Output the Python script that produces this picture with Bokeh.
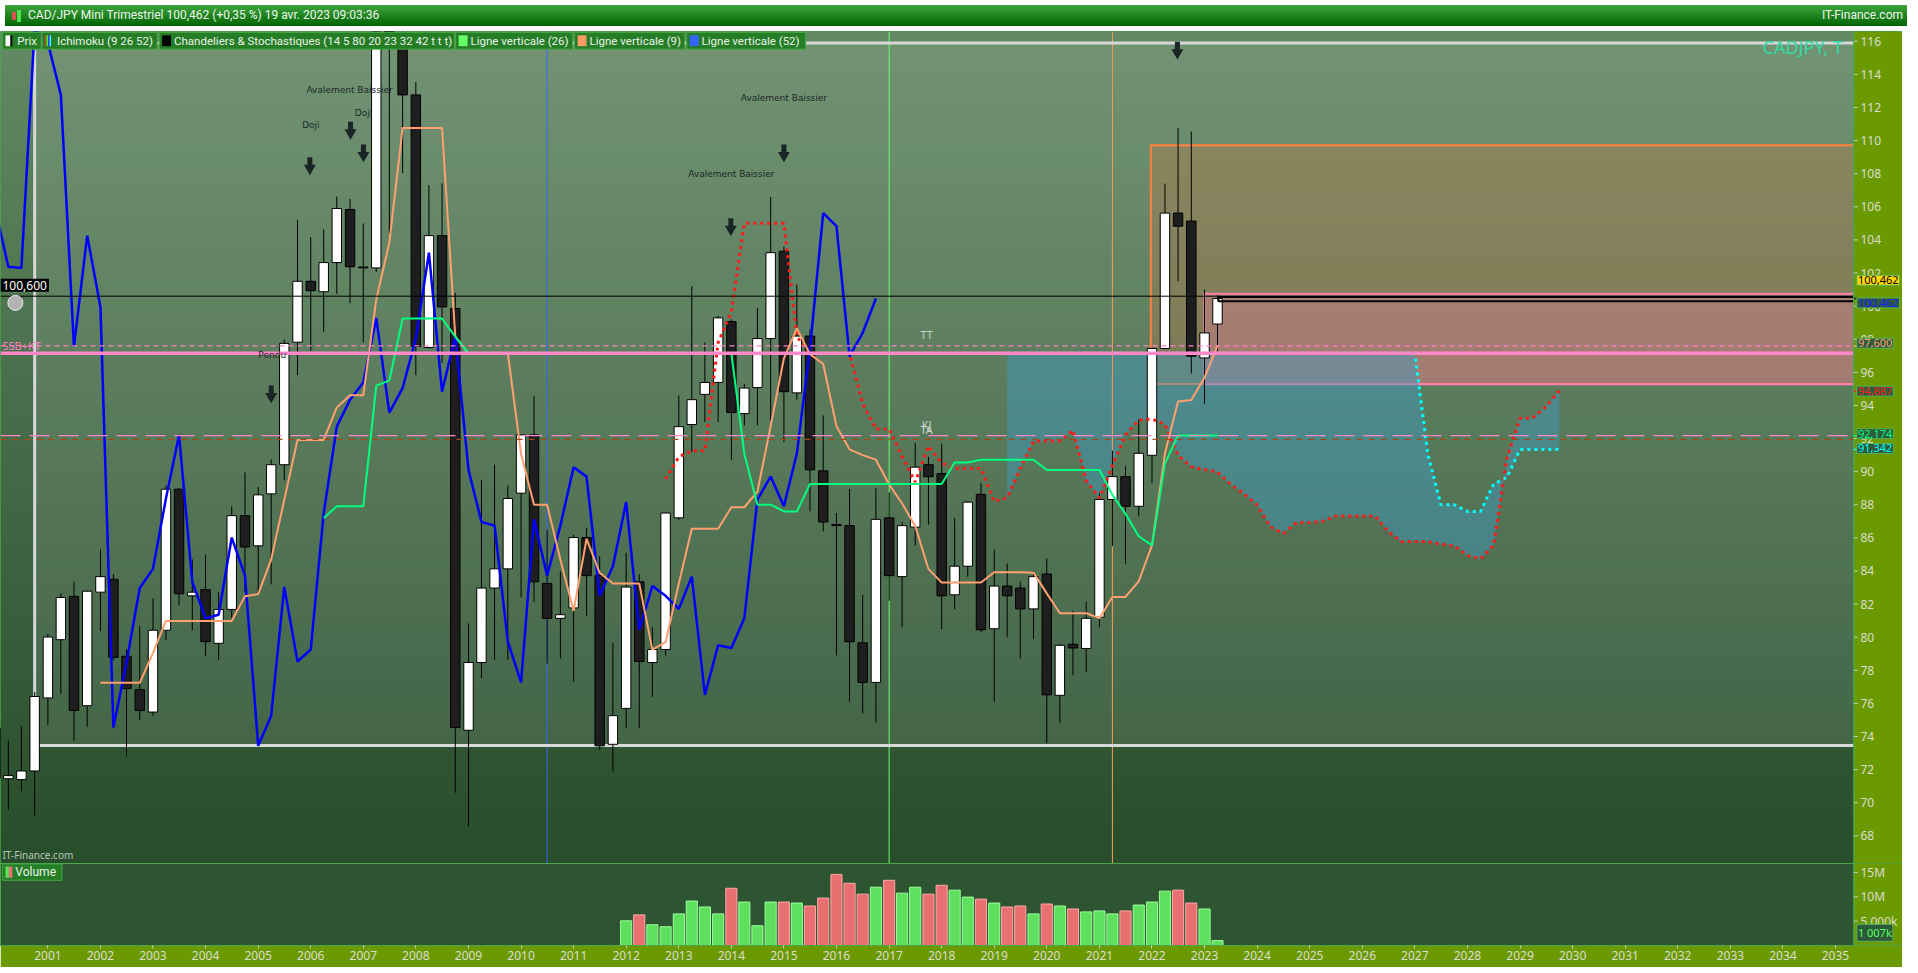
import numpy as np
import pandas as pd

from bokeh.plotting import figure
from bokeh.layouts import column
from bokeh.models import Range1d, FixedTicker, DatetimeTickFormatter, Label, Div
from bokeh.core.properties import value
from bokeh.embed import file_html
from bokeh.resources import INLINE

# quarterly CAD/JPY candles, Q1 2000 .. Q2 2023
opens = [74.5, 71.45, 71.4, 71.92,
         76.33, 79.85, 82.47, 75.86,
         82.72, 83.5, 78.85, 76.83,
         75.48, 80.42, 88.94, 82.5,
         82.87, 79.63, 81.68, 87.34,
         85.52, 88.66, 90.42, 97.82,
         101.5, 100.87, 102.63, 105.84,
         102.36, 102.31, 116.8, 115.9,
         112.76, 97.5, 104.26, 99.86,
         74.38, 78.47, 82.97, 84.13,
         88.7, 92.22, 83.25, 81.14,
         81.77, 86.02, 83.72, 73.53,
         75.7, 83.35, 78.47, 79.26,
         87.21, 92.85, 94.67, 95.39,
         99.07, 93.51, 95.08, 98.04,
         103.32, 94.76, 98.19, 90.05,
         86.81, 86.74, 79.66, 77.27,
         87.21, 83.66, 86.65, 90.42,
         89.89, 82.56, 84.29, 88.63,
         80.51, 83.09, 82.97, 81.71,
         83.82, 76.49, 79.57, 79.32,
         81.21, 88.32, 89.7, 87.91,
         90.99, 97.44, 105.62, 105.14,
         96.87, 98.92]
highs = [76.0, 73.75, 74.6, 76.7,
         80.2, 82.65, 83.35, 82.8,
         85.3, 83.82, 79.26, 80.67,
         82.34, 89.16, 89.0, 84.7,
         84.98, 82.72, 87.91, 89.95,
         89.07, 90.74, 97.97, 105.21,
         104.17, 104.64, 106.62, 106.47,
         104.99, 117.6, 118.2, 125.7,
         113.54, 107.31, 107.41, 100.8,
         80.83, 89.48, 90.42, 89.16,
         92.22, 94.58, 86.49, 83.97,
         86.18, 86.6, 84.9, 79.66,
         85.1, 83.8, 80.6, 87.5,
         94.6, 101.2, 97.8, 99.4,
         99.2, 95.3, 99.9, 106.6,
         103.6, 101.3, 98.6, 93.4,
         87.5, 88.95, 82.56, 89.0,
         88.75, 86.96, 91.75, 90.9,
         91.7, 87.2, 88.2, 89.3,
         85.3, 84.45, 83.35, 83.97,
         84.76, 79.57, 81.6, 82.15,
         88.7, 91.27, 90.33, 93.16,
         97.5, 107.4, 110.77, 110.55,
         101.0, 100.65]
lows = [70.8, 69.57, 70.7, 69.19,
        74.7, 76.58, 73.75, 74.6,
        80.36, 78.6, 72.8, 75.01,
        75.26, 79.82, 81.93, 80.42,
        78.85, 78.63, 81.14, 82.72,
        82.62, 83.19, 89.48, 95.83,
        97.31, 98.44, 100.74, 100.17,
        97.82, 102.06, 104.42, 108.04,
        95.83, 97.44, 96.56, 70.61,
        68.6, 77.53, 78.63, 78.63,
        82.4, 82.15, 78.41, 78.72,
        77.31, 81.3, 73.2, 71.9,
        74.5, 74.5, 76.4, 78.9,
        87.1, 91.2, 93.0, 93.0,
        90.7, 92.8, 92.8, 93.1,
        91.8, 94.35, 87.6, 86.4,
        78.9, 76.1, 75.4, 74.85,
        82.2, 80.6, 85.55, 86.8,
        80.5, 81.7, 83.66, 80.3,
        76.1, 80.0, 78.7, 79.9,
        73.6, 74.8, 77.7, 77.9,
        80.6, 85.5, 84.45, 87.3,
        89.3, 97.4, 101.5, 95.93,
        94.1, 97.25]
closes = [71.5, 71.64, 71.92, 76.42,
          80.01, 82.4, 75.58, 82.78,
          83.66, 78.78, 76.9, 75.58,
          80.42, 88.94, 82.62, 82.72,
          79.73, 81.68, 87.34, 85.45,
          88.6, 90.42, 97.75, 101.5,
          100.93, 102.63, 105.9, 102.38,
          102.31, 116.8, 115.9, 112.76,
          97.56, 104.26, 99.95, 74.54,
          78.47, 82.97, 84.13, 88.38,
          92.22, 83.35, 81.14, 81.36,
          86.02, 83.72, 73.44, 75.26,
          83.03, 78.53, 79.26, 87.5,
          92.72, 94.35, 95.39, 99.29,
          93.57, 95.05, 98.04, 103.23,
          94.83, 98.19, 90.11, 86.96,
          86.74, 79.73, 77.27, 87.12,
          83.72, 86.74, 90.27, 89.7,
          82.5, 84.29, 88.16, 80.45,
          83.09, 82.5, 81.71, 83.66,
          76.52, 79.51, 79.35, 81.14,
          88.32, 89.7, 87.91, 91.11,
          97.44, 105.62, 104.83, 96.97,
          98.38, 100.462]
# volume in millions, only from Q1 2012
volumes = [5.07, 6.29, 4.26, 3.85, 6.49, 9.13, 7.91, 6.49, 11.76, 8.92,
           4.06, 8.92, 8.92, 8.72, 8.11, 9.74, 14.6, 12.78, 10.55, 11.97,
           13.39, 10.75, 11.97, 10.55, 12.37, 11.36, 9.94, 9.53, 8.72, 7.91,
           8.11, 6.49, 8.52, 8.11, 7.5, 6.9, 7.1, 6.49, 7.1, 8.31,
           8.92, 11.16, 11.36, 8.72, 7.5, 1.007]
vol_start = "2012-01-01"

alert_level = 100.600
last_price = 100.462
tenkan_level = 97.600
ssb_level = 97.15
span_a_level = 94.887
kijun_level = 92.174
span_b_level = 91.342
brown_level = 91.95
box_high, box_low = 115.9, 73.46
orange_box = (109.72, 95.3)
pink_box = (100.75, 95.28)
cur_box = (100.55, 100.30)

price_ticks = list(range(68, 117, 2))
vol_ticks = [5, 10, 15]
vol_labels = {5: "5 000k", 10: "10M", 15: "15M"}
year_ticks = list(range(2001, 2036))

OLIVE = "#6a9a00"
EDGE = "#4aa84a"


def ms(ts):
    return ts.value / 1e6


def xpx(px):
    # pixel column of the original screenshot -> datetime (ms)
    return ms(pd.Timestamp("2001-01-01") + pd.Timedelta(days=(px - 47.8) / 53.02 * 365.25))


def ypx(py):
    # pixel row of the original screenshot -> price
    return 116 - (py - 31) / 16.83


def style_axis(a, ticks):
    # labels are pulled back over the olive strip at the right of the frame
    a.ticker = FixedTicker(ticks=ticks)
    a.major_label_text_color = "#dcdcd0"
    a.major_label_text_font = "Noto Sans"
    a.major_label_text_font_size = "12px"
    a.major_tick_in = 0
    a.major_tick_out = 0
    a.minor_tick_in = 0
    a.minor_tick_out = 0
    a.axis_line_color = None
    a.major_label_standoff = -42


dates = pd.date_range("2000-01-01", periods=len(closes), freq="QS")
dx = [ms(d) for d in dates]
df = pd.DataFrame({"open": opens, "high": highs, "low": lows, "close": closes})

# ichimoku 9 26 52
tenkan = (df.high.rolling(9).max() + df.low.rolling(9).min()) / 2
kijun = (df.high.rolling(26).max() + df.low.rolling(26).min()) / 2
span_b = (df.high.rolling(52).max() + df.low.rolling(52).min()) / 2
all_dates = pd.date_range("2000-01-01", periods=len(closes) + 26, freq="QS")
ax_all = [ms(d) for d in all_dates]
ssa = np.r_[np.full(26, np.nan), ((tenkan + kijun) / 2).values]
ssb = np.r_[np.full(26, np.nan), span_b.values]

x0, xe, x1 = xpx(0), xpx(1869), xpx(1918)
y0, y1 = 66.33, 116.59
QW = 91 * 86400000

p = figure(frame_width=1902, frame_height=832, x_axis_type="datetime", x_axis_location=None,
           y_axis_location="right", x_range=Range1d(x0, x1), y_range=Range1d(y0, y1),
           output_backend="svg", toolbar_location=None,
           min_border_left=0, min_border_top=0, min_border_bottom=0, min_border_right=0,
           background_fill_color="#4a7a4e", border_fill_color=OLIVE, outline_line_color=EDGE)
p.grid.visible = False

# background gradient
nb = 60
edges = np.linspace(y1, y0, nb + 1)
top_c, bot_c = np.array([98, 136, 100]), np.array([40, 78, 44])
cols = []
for i in range(nb):
    c = top_c + (bot_c - top_c) * (i / (nb - 1))
    cols.append("#%02x%02x%02x" % tuple(int(v) for v in c))
p.quad(left=x0, right=xe, top=edges[:-1] + 0.05, bottom=edges[1:], fill_color=cols, line_color=None)

# range box (white frame)
bx = ms(pd.Timestamp("2000-10-01"))
p.quad(left=bx, right=xe, top=box_high, bottom=box_low, fill_color="white", fill_alpha=0.1, line_color=None)

# drawn rectangles on the right
p.quad(left=xpx(1160), right=xpx(1880), top=orange_box[0], bottom=orange_box[1],
       fill_color="#cc7341", fill_alpha=0.3, line_color="#ff8040", line_width=2)
p.quad(left=xpx(1214), right=xpx(1880), top=pink_box[0], bottom=pink_box[1],
       fill_color="#ff7daf", fill_alpha=0.3, line_color="#ff80b0", line_width=2)

# cloud
ok = ~np.isnan(ssa) & ~np.isnan(ssb)
cx = [x for x, k in zip(ax_all, ok) if k]
p.varea(x=cx, y1=ssa[ok], y2=ssb[ok], fill_color="#3d9cc4", fill_alpha=0.45)

# vertical lines 52 / 26 / 9
for idx, col in [(-52, "#3366ff"), (-26, "#66ff66"), (-9, "#ff9955")]:
    p.segment(x0=dx[idx], y0=y0, x1=dx[idx], y1=y1, line_color=col, line_width=1)

# white frame lines
p.segment(x0=[bx, bx, bx], y0=[box_high, box_low, box_low], x1=[xe, xe, bx], y1=[box_high, box_low, box_high],
          line_color="#d8d8d8", line_width=3)

# candles
p.segment(x0=dx, y0=lows, x1=dx, y1=highs, line_color="black", line_width=1)
up = [c >= o for o, c in zip(opens, closes)]
p.vbar(x=[x for x, u in zip(dx, up) if u], width=QW * 0.72,
       top=[c for c, u in zip(closes, up) if u], bottom=[o for o, u in zip(opens, up) if u],
       fill_color="white", line_color="black", line_width=1)
p.vbar(x=[x for x, u in zip(dx, up) if not u], width=QW * 0.72,
       top=[o for o, u in zip(opens, up) if not u], bottom=[c for c, u in zip(closes, up) if not u],
       fill_color="#1e1e1e", line_color="black", line_width=1)

# current price box
p.quad(left=xpx(1228), right=xpx(1880), top=cur_box[0], bottom=cur_box[1],
       fill_color=None, line_color="black", line_width=2)

# ichimoku lines
p.line(ax_all, ssa, line_color="#ff1a1a", line_width=3, line_dash="3 4")
p.line(ax_all, ssb, line_color="#00ffff", line_width=3, line_dash="3 4")
p.line(dx[:-26], closes[26:], line_color="#0000ff", line_width=2.5)
p.line(dx, tenkan, line_color="#ffa070", line_width=2)
p.line(dx, kijun, line_color="#00ff7f", line_width=2)

# horizontal levels across the chart
lv_y = [alert_level, tenkan_level, ssb_level, kijun_level, brown_level]
lv_c = ["black", "#ff80c0", "#ff88c8", "#ff88c8", "#a04a1a"]
lv_w = [1, 1.3, 3.5, 1.3, 1.3]
lv_d = ["solid", "5 4", "solid", "20 9", "6 6"]
for yy, cc, ww, dd in zip(lv_y, lv_c, lv_w, lv_d):
    p.segment(x0=x0, y0=yy, x1=xe, y1=yy, line_color=cc, line_width=ww, line_dash=dd)

# pattern annotations
ann_x = [352, 313, 366, 274, 790, 737]
ann_y = [81, 116, 104, 350, 89, 166]
ann_t = ["Avalement Baissier", "Doji", "Doji", "Pendu", "Avalement Baissier", "Avalement Baissier"]
p.text(x=[xpx(v) for v in ann_x], y=[ypx(v) for v in ann_y], text=ann_t,
       text_font=value("DejaVu Sans"), text_font_size="9px", text_color="#1c2828",
       text_align="center", text_baseline="middle")

arr_x = [xpx(v) for v in [312, 353, 366, 273, 790, 736.5, 1186.8]]
arr_y = [ypx(v) for v in [157, 121, 144, 389, 144, 219, 39.5]]
pxu = 832 / (y1 - y0)
p.rect(x=arr_x, y=[v + 4 / pxu for v in arr_y], width=5, height=8, width_units="screen",
       height_units="screen", fill_color="#1a2424", line_color=None)
p.scatter(x=arr_x, y=[v - 3 / pxu for v in arr_y], marker="inverted_triangle", size=12,
          fill_color="#1a2424", line_color=None)

p.text(x=[xpx(2)], y=[ypx(340)], text=["SSB+KT"], text_font=value("Noto Sans"), text_font_size="11px",
       text_color="#ff80c0", text_baseline="middle")
p.text(x=[xpx(934), xpx(934), xpx(934)], y=[ypx(329), ypx(421), ypx(426)], text=["TT", "KJ", "TA"],
       text_font=value("Noto Sans"), text_font_size="11px", text_color="#c8d2c8",
       text_align="center", text_baseline="middle")
p.text(x=[xpx(1858)], y=[ypx(37)], text=["CADJPY, T"], text_font=value("Noto Sans"),
       text_font_size="18px", text_color="#33d9a6", text_align="right", text_baseline="middle")
p.text(x=[xpx(2)], y=[ypx(858)], text=["IT-Finance.com"], text_font=value("Noto Sans"),
       text_font_size="10px", text_color="#b8c8b8", text_baseline="middle")

# alert label + bell
p.add_layout(Label(x=0, x_units="screen", y=ypx(279), text="100,600", text_font="Noto Sans",
                   text_font_size="12px", text_color="white", text_baseline="middle",
                   background_fill_color="black", padding=2))
p.scatter(x=[xpx(15)], y=[ypx(297)], marker="circle", size=15, fill_color="#b4b4b4", line_color="#e8e8e8")

# olive price scale strip
p.quad(left=xe, right=x1, top=y1, bottom=y0, fill_color=OLIVE, line_color=None)
p.segment(x0=xe, y0=y0, x1=xe, y1=y1, line_color=EDGE, line_width=1.5)
p.segment(x0=xe, y0=price_ticks, x1=xpx(1873), y1=price_ticks, line_color="#c8d0b8", line_width=1)
tag_v = [last_price, tenkan_level, span_a_level, kijun_level, span_b_level]
tag_c = ["#202020", "#ffa070", "#ff2020", "#00ff80", "#00ffff"]
p.segment(x0=xe, y0=tag_v, x1=xpx(1873), y1=tag_v, line_color=tag_c, line_width=1.5)

# legend bar
leg_t = ["Prix", "Ichimoku (9 26 52)", "Chandeliers & Stochastiques (14 5 80 20 23 32 42 t t t)",
         "Ligne verticale (26)", "Ligne verticale (9)", "Ligne verticale (52)"]
leg_l = [2, 42, 160, 459, 579, 692]
leg_r = [41, 158, 458, 577, 690, 812]
p.quad(left=[xpx(v) for v in leg_l], right=[xpx(v) for v in leg_r], top=ypx(22), bottom=ypx(39),
       fill_color="#257d25", line_color="#45a845", level="overlay")
p.text(x=[xpx(v + 15) for v in leg_l], y=ypx(30.5), text=leg_t, text_font=value("Roboto"),
       text_font_size="11.5px", text_color="#eaf2ea", text_baseline="middle", level="overlay")
ic_l = [5, 10, 45, 46.5, 48, 49.5, 163, 462, 582, 695]
ic_r = [10, 12, 46.5, 48, 49.5, 51, 172, 471, 591, 704]
ic_c = ["white", "black", "#ff3030", "#30ff30", "#3030ff", "#30ffff", "black", "#66ff66", "#ff9966", "#3366ff"]
p.quad(left=[xpx(v) for v in ic_l], right=[xpx(v) for v in ic_r], top=ypx(25), bottom=ypx(36),
       fill_color=ic_c, line_color=None, level="overlay")

style_axis(p.yaxis[0], price_ticks)

tags = [("100,462", ypx(274), "#ffd700", "black"),
        ("100,462", ypx(297), "#2d5a3a", "#1a1aff"),
        ("97,600", ypx(338), "#2d5a3a", "#ffa070"),
        ("94,887", ypx(386.7), "#2d5a3a", "#ff2020"),
        ("92,174", ypx(430), "#2d5a3a", "#00ff80"),
        ("91,342", ypx(445), "#2d5a3a", "#00ffff")]
for t, yy, bg, fg in tags:
    p.add_layout(Label(x=xpx(1872), y=yy, text=t, text_font="Noto Sans", text_font_size="11px",
                       text_color=fg, text_baseline="middle", background_fill_color=bg,
                       border_line_color="#59b359", padding=1))

# volume panel
vs = pd.date_range(vol_start, periods=len(volumes), freq="QS")
vx = [ms(d) for d in vs]
vup = up[-len(volumes):]
vt, vb = 16.84, 0
v = figure(frame_width=1902, frame_height=82, x_axis_type="datetime", x_range=p.x_range,
           y_range=Range1d(vb, vt), y_axis_location="right", output_backend="svg",
           toolbar_location=None, min_border_left=0, min_border_top=0, min_border_right=0,
           min_border_bottom=22, background_fill_color="#2d5532", border_fill_color=OLIVE,
           outline_line_color=EDGE)
v.grid.visible = False
v.vbar(x=vx, top=volumes, width=QW * 0.85,
       fill_color=["#5ee05e" if u else "#e87070" for u in vup],
       line_color=["#9cff9c" if u else "#ffa8a8" for u in vup], line_width=1)
v.quad(left=xpx(2), right=xpx(62), top=16.75, bottom=13.39, fill_color="#257d25", line_color="#45a845")
v.quad(left=[xpx(5), xpx(8.5)], right=[xpx(8.5), xpx(12)], top=16.2, bottom=13.9,
       fill_color=["#5ee05e", "#e87070"], line_color=None)
v.text(x=[xpx(15)], y=[15.07], text=["Volume"], text_font=value("Roboto"), text_font_size="12px",
       text_color="#eaf2ea", text_baseline="middle")
v.quad(left=xe, right=x1, top=vt, bottom=vb, fill_color=OLIVE, line_color=None)
v.segment(x0=xe, y0=vb, x1=xe, y1=vt, line_color=EDGE, line_width=1.5)
v.segment(x0=xe, y0=vol_ticks, x1=xpx(1873), y1=vol_ticks, line_color="#c8d0b8", line_width=1)
v.add_layout(Label(x=xpx(1872), y=2.6, text="1 007k", text_font="Noto Sans",
                   text_font_size="11px", text_color="#5cff5c", text_baseline="middle",
                   background_fill_color="#2d5a3a", border_line_color="#59b359", padding=1))

vy = v.yaxis[0]
style_axis(vy, vol_ticks)
vy.major_label_overrides = vol_labels

xa = v.xaxis[0]
xa.ticker = FixedTicker(ticks=[ms(pd.Timestamp(f"{y}-01-01")) for y in year_ticks])
xa.formatter = DatetimeTickFormatter(years="%Y", months="%Y", days="%Y", hours="%Y",
                                     minutes="%Y", seconds="%Y", milliseconds="%Y")
xa.major_label_text_color = "#dcdcd0"
xa.major_label_text_font = "Noto Sans"
xa.major_label_text_font_size = "12px"
xa.major_tick_in = 0
xa.major_tick_out = 3
xa.minor_tick_out = 0
xa.major_tick_line_color = "#c8d0b8"
xa.axis_line_color = EDGE
xa.major_label_standoff = 2

title = Div(text=(
    '<div style="width:1902px;height:21px;background:linear-gradient(#3fa53f,#006400);'
    'color:#eef5ee;font-family:Roboto;font-size:12px;line-height:21px;position:relative;overflow:hidden;">'
    '<span style="display:inline-block;width:4px;height:8px;background:#e05050;margin:0 1px 0 7px;'
    'vertical-align:middle"></span><span style="display:inline-block;width:4px;height:12px;'
    'background:#50e050;margin-right:7px;vertical-align:middle"></span>'
    'CAD/JPY Mini Trimestriel 100,462 (+0,35 %) 19 avr. 2023 09:03:36'
    '<span style="position:absolute;right:4px;top:0;">IT-Finance.com</span></div>'),
    width=1902, height=21)

layout = column(title, p, v, spacing=0)
open("out.html", "w").write(file_html(layout, INLINE))
